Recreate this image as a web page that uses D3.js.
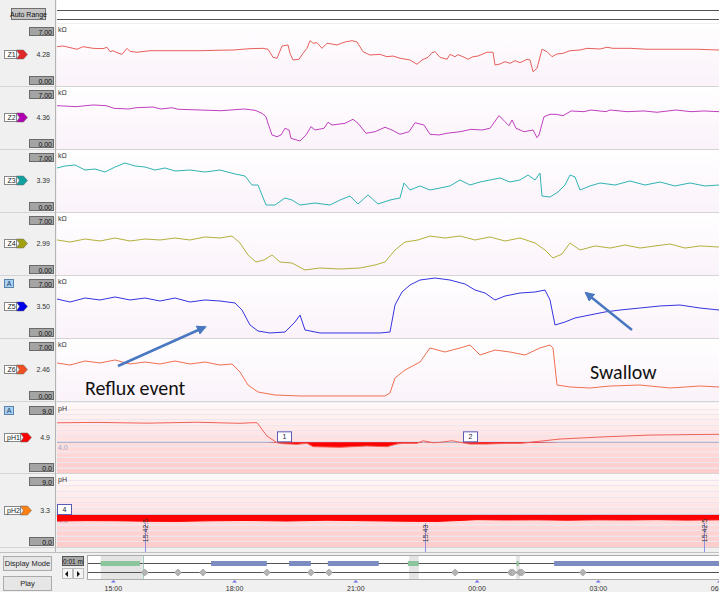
<!DOCTYPE html>
<html>
<head>
<meta charset="utf-8">
<script src="https://cdn.jsdelivr.net/npm/d3@7"></script>
<style>
  body { margin: 0; background: #f0f0f0; font-family: "Liberation Sans", Arial, sans-serif; }
  svg { display: block; }
</style>
</head>
<body>
<svg id="chart" width="719" height="592"></svg>
<script>
// ---- data (sample index 0..662 across the view, impedance in kOhm, pH) ----
const z1 = [[0,4.47],[6,4.55],[20,4.17],[26,4.47],[36,4.28],[46,4.24],[50,4.40],[53,3.89],[56,4.00],[60,3.77],[65,3.58],[70,4.28],[73,3.93],[80,3.82],[93,4.00],[110,4.00],[126,4.00],[143,4.00],[160,4.05],[176,4.08],[193,4.24],[206,4.28],[211,4.17],[216,3.23],[220,3.12],[225,4.55],[231,4.67],[233,3.70],[236,2.92],[242,3.00],[246,3.70],[250,4.28],[253,5.17],[256,4.87],[260,4.94],[265,4.28],[270,4.87],[275,4.78],[280,4.67],[288,5.02],[295,5.17],[300,5.02],[306,3.89],[313,3.50],[323,3.58],[330,3.30],[336,3.38],[343,3.12],[353,2.92],[360,2.42],[365,2.92],[371,3.23],[375,3.77],[378,3.89],[383,3.23],[390,3.00],[393,3.58],[398,3.30],[401,3.54],[406,3.30],[411,3.00],[416,3.30],[421,3.38],[430,3.82],[436,3.82],[438,2.33],[443,2.45],[448,2.72],[453,2.53],[458,2.84],[463,2.60],[470,3.00],[473,2.92],[476,1.55],[480,1.95],[485,4.17],[490,3.89],[495,3.30],[500,3.62],[506,3.70],[513,4.00],[523,4.08],[530,4.28],[543,4.20],[550,4.40],[556,4.28],[573,4.28],[590,4.17],[606,4.17],[623,4.17],[640,4.17],[662,4.08]];

const z2 = [[0,4.94],[19,4.82],[36,5.02],[49,4.94],[57,4.63],[72,4.55],[79,4.70],[96,4.78],[104,4.55],[115,4.70],[121,4.52],[143,4.43],[164,4.35],[187,4.55],[198,4.40],[205,4.05],[209,3.65],[211,2.88],[215,1.52],[220,1.32],[224,1.52],[228,2.30],[232,2.10],[234,1.13],[243,0.82],[249,1.52],[254,2.49],[258,2.10],[267,2.30],[271,3.00],[275,2.68],[288,2.88],[296,3.35],[301,2.88],[309,1.72],[318,1.90],[328,2.42],[335,2.10],[343,1.60],[352,1.90],[358,2.95],[367,2.68],[373,1.60],[382,1.52],[390,1.72],[403,1.90],[414,2.18],[425,2.10],[433,2.30],[442,3.77],[448,3.07],[452,2.60],[455,3.27],[459,2.30],[467,1.90],[476,2.10],[480,1.20],[482,1.52],[487,3.65],[493,3.93],[499,3.93],[506,3.77],[514,4.32],[527,4.24],[534,4.43],[549,4.24],[553,4.43],[570,4.24],[587,4.32],[600,4.17],[619,4.43],[634,4.24],[647,4.32],[662,4.24]];

const z3 = [[0,5.02],[8,5.25],[18,5.37],[28,4.78],[38,4.90],[48,4.55],[58,5.13],[68,5.60],[78,5.25],[88,5.13],[98,4.78],[108,5.02],[118,4.67],[133,4.78],[148,4.55],[163,4.78],[178,4.32],[188,4.08],[195,3.03],[201,3.03],[205,1.87],[209,0.70],[218,0.70],[228,1.52],[235,1.28],[243,0.70],[258,0.93],[273,0.70],[283,1.28],[293,1.75],[301,0.82],[311,1.87],[321,0.82],[333,1.28],[343,1.52],[347,3.27],[353,2.45],[363,2.92],[373,2.45],[383,2.68],[393,2.92],[403,3.62],[413,3.03],[423,3.38],[433,3.62],[443,3.85],[453,3.38],[463,3.62],[471,4.20],[478,3.62],[483,4.43],[485,1.75],[493,1.63],[501,2.22],[508,3.03],[513,4.20],[518,3.97],[523,2.45],[533,2.92],[543,3.27],[558,3.03],[573,3.50],[588,3.03],[603,3.38],[618,2.92],[633,3.27],[648,2.92],[662,3.03]];

const z4 = [[0,3.97],[13,3.73],[28,4.08],[43,3.85],[58,4.20],[73,3.85],[88,4.08],[103,3.97],[118,4.20],[133,3.97],[148,4.32],[163,4.20],[175,4.43],[183,3.62],[191,2.22],[199,1.40],[207,1.63],[215,2.22],[223,1.40],[235,1.28],[248,0.47],[263,0.70],[283,0.58],[303,0.70],[318,1.05],[328,1.40],[338,2.80],[348,3.73],[361,3.97],[373,4.43],[388,4.20],[403,4.43],[418,3.97],[433,4.32],[448,3.85],[463,4.20],[478,3.62],[488,2.80],[496,1.87],[505,2.33],[513,3.62],[523,2.80],[538,3.27],[553,3.03],[568,3.38],[583,3.03],[598,3.27],[613,3.50],[628,3.03],[643,3.27],[662,3.15]];

const z5 = [[0,4.43],[13,4.08],[28,4.55],[43,4.32],[58,4.67],[73,4.32],[88,4.55],[103,4.20],[118,4.55],[133,4.08],[148,4.32],[163,4.20],[178,3.97],[185,3.15],[193,1.40],[201,0.70],[213,0.47],[228,0.58],[238,1.75],[243,2.57],[248,0.82],[263,0.47],[293,0.47],[323,0.47],[333,0.58],[338,3.73],[345,5.25],[353,6.07],[363,6.65],[378,6.88],[393,6.65],[408,6.18],[418,5.48],[428,5.13],[438,4.32],[448,4.78],[463,5.13],[478,5.25],[488,5.48],[493,4.32],[498,1.40],[508,1.75],[518,2.22],[533,2.57],[548,2.92],[563,3.15],[583,3.38],[603,3.62],[623,3.73],[643,3.38],[662,3.15]];

const z6 = [[0,4.32],[13,4.08],[28,4.55],[43,4.32],[58,4.67],[73,4.20],[88,4.43],[103,4.20],[118,4.55],[133,4.20],[148,4.43],[163,4.08],[175,4.20],[183,3.27],[191,1.75],[201,0.93],[218,0.58],[243,0.47],[273,0.47],[303,0.47],[328,0.47],[333,0.82],[338,2.57],[348,3.50],[363,4.43],[373,6.07],[388,5.60],[403,6.07],[413,6.42],[423,5.25],[438,5.83],[453,5.60],[468,5.25],[483,6.07],[493,6.42],[496,6.07],[500,1.75],[513,1.52],[533,1.40],[553,1.63],[583,1.75],[613,1.40],[643,1.63],[662,1.52]];

const ph1 = [[0,6.55],[40,6.60],[90,6.50],[140,6.62],[183,6.48],[195,6.56],[200,6.56],[210,4.82],[220,3.95],[226,3.82],[240,3.74],[250,3.87],[256,3.43],[283,3.35],[310,3.52],[330,3.43],[340,3.78],[346,3.87],[360,3.87],[366,4.21],[376,3.95],[383,4.00],[395,4.21],[403,4.00],[413,3.78],[430,3.78],[450,3.87],[463,3.87],[503,4.43],[543,4.69],[593,4.95],[662,5.05]];

const ph2 = [[0,3.25],[30,3.30],[60,3.28],[90,3.22],[120,3.20],[150,3.27],[190,3.32],[230,3.25],[270,3.35],[310,3.28],[350,3.22],[380,3.20],[400,3.30],[420,3.42],[450,3.38],[480,3.40],[510,3.35],[540,3.40],[570,3.38],[600,3.42],[630,3.36],[662,3.40]];

const channelNames = ["Z1", "Z2", "Z3", "Z4", "Z5", "Z6", "pH1", "pH2"];
const channelReadouts = ["4.28", "4.36", "3.39", "2.99", "3.50", "2.46", "4.9", "3.3"];
const channelMax = ["7.00", "7.00", "7.00", "7.00", "7.00", "7.00", "9.0", "9.0"];
const channelMin = ["0.00", "0.00", "0.00", "0.00", "0.00", "0.00", "0.0", "0.0"];

// event markers and time cursors
const eventLabels = ["1", "2", "4"];
const eventSamples = [220, 406, 0];
const eventChannels = [6, 6, 7];
const cursorSamples = [88, 368, 647];
const cursorLabels = ["15:42:5", "15:43", "15:42:5"];

// overview timeline (hours since midnight, >24 = next day)
const timeTickHours = [15, 18, 21, 24, 27, 30];
const mealPeriods = [[14.70, 15.67], [22.30, 22.57], [24.99, 25.04]];
const supinePeriods = [[17.43, 18.81], [19.36, 19.90], [20.32, 21.58], [25.92, 30]];
const shadedPeriods = [[14.70, 15.72], [22.33, 22.57], [24.98, 25.07]];
const symptomHours = [15.79, 16.61, 17.23, 18.81, 19.90, 20.35, 23.47, 24.85, 24.90, 25.07, 25.12, 26.63];

// ---- layout ----
const svg = d3.select("#chart");
const W = 719, H = 592;
const leftW = 56;
const plotL = 57, plotR = 719;

const traceColors = ["#e8605c", "#c040c0", "#30b4b4", "#b4b03c", "#3434e0", "#f07050", "#f06058", "#ff0000"];
const badgeColors = ["#e02828", "#b000b0", "#10a0a0", "#a0a010", "#0000e8", "#f05020", "#ff0000", "#ff8010"];
const panelTops = [24, 87, 150, 213, 276, 339, 403, 474];
const panelBottoms = [86, 149, 212, 275, 338, 401, 473, 547];
const traces = [z1, z2, z3, z4, z5, z6, ph1, ph2];

const x = d3.scaleLinear().domain([0, 662]).range([plotL, plotR]);

// background
svg.append("rect").attr("width", W).attr("height", H).attr("fill", "#f0f0f0");

// top strip
svg.append("rect").attr("x", plotL).attr("y", 0).attr("width", plotR - plotL).attr("height", 23).attr("fill", "#ffffff");
[10, 19].forEach(yy => {
    svg.append("line").attr("x1", plotL).attr("x2", plotR).attr("y1", yy + 0.5).attr("y2", yy + 0.5)
        .attr("stroke", "#555").attr("stroke-width", 1);
});
svg.append("rect").attr("x", 11.5).attr("y", 8.5).attr("width", 34).attr("height", 11)
    .attr("fill", "#c4c4c4").attr("stroke", "#707070");
svg.append("text").attr("x", 28.5).attr("y", 17).attr("text-anchor", "middle")
    .attr("font-size", 7).attr("fill", "#111").text("Auto Range");

const defs = svg.append("defs");
const zGrad = defs.append("linearGradient").attr("id", "zgrad").attr("x1", 0).attr("x2", 0).attr("y1", 0).attr("y2", 1);
zGrad.append("stop").attr("offset", "0%").attr("stop-color", "#ffffff");
zGrad.append("stop").attr("offset", "100%").attr("stop-color", "#fbf2fa");

channelNames.forEach((name, i) => {
    const top = panelTops[i], bottom = panelBottoms[i];
    const isPH = i >= 6;
    const y = isPH
        ? d3.scaleLinear().domain([0, 9]).range([bottom, top + 1])
        : d3.scaleLinear().domain([0, 7]).range([bottom - 1, top + 1]);
    const g = svg.append("g");

    // plot background
    if (!isPH) {
        g.append("rect").attr("x", plotL).attr("y", top).attr("width", plotR - plotL).attr("height", bottom - top)
            .attr("fill", "url(#zgrad)");
    } else {
        const bandColor = d3.scaleLinear().domain([0, 9]).range(["#ffcccc", "#fffafa"]);
        const steps = d3.range(0, 9, 0.7);
        g.append("rect").attr("x", plotL).attr("y", top).attr("width", plotR - plotL).attr("height", bottom - top)
            .attr("fill", "#fffafa");
        steps.forEach(s => {
            g.append("rect").attr("x", plotL).attr("width", plotR - plotL)
                .attr("y", y(Math.min(s + 0.7, 9))).attr("height", y(s) - y(Math.min(s + 0.7, 9)))
                .attr("fill", bandColor(s));
            g.append("line").attr("x1", plotL).attr("x2", plotR)
                .attr("y1", Math.round(y(s)) + 0.5).attr("y2", Math.round(y(s)) + 0.5)
                .attr("stroke", "#ece6ee").attr("stroke-width", 1);
        });
        // pH 4 reference
        g.append("line").attr("x1", plotL).attr("x2", plotR)
            .attr("y1", y(4)).attr("y2", y(4)).attr("stroke", "#a8aac8").attr("stroke-width", 1);
        g.append("text").attr("x", plotL + 1).attr("y", y(4) + 8).attr("font-size", 7)
            .attr("fill", "#a0a8c8").text("4.0");
    }

    // unit label
    g.append("text").attr("x", plotL + 1).attr("y", top + 8).attr("font-size", 7).attr("fill", "#333")
        .text(isPH ? "pH" : "k\u03A9");

    // below pH 4 fill
    if (isPH) {
        const area = d3.area()
            .x(d => x(d[0]))
            .y0(y(4))
            .y1(d => y(Math.min(d[1], 4)));
        g.append("path").datum(traces[i]).attr("d", area).attr("fill", "#ff0000");
    }

    // trace
    const line = d3.line().x(d => x(d[0])).y(d => y(d[1]));
    g.append("path").datum(traces[i]).attr("d", line)
        .attr("fill", "none").attr("stroke", traceColors[i]).attr("stroke-width", 1);

    // panel separator
    g.append("line").attr("x1", 0).attr("x2", W).attr("y1", bottom + 0.5).attr("y2", bottom + 0.5)
        .attr("stroke", "#d4d4d4");

    // left controls
    const boxW = 24, boxH = 8;
    [[top + 3, channelMax[i]], [bottom - 10, channelMin[i]]].forEach(([by, label]) => {
        g.append("rect").attr("x", 29.5).attr("y", by + 0.5).attr("width", boxW).attr("height", boxH)
            .attr("fill", "#a4a4a4").attr("stroke", "#6a6a6a");
        g.append("text").attr("x", 52).attr("y", by + 7.5).attr("text-anchor", "end")
            .attr("font-size", 7).attr("fill", "#111").text(label);
    });
    const midY = Math.round((top + bottom) / 2) - 1;
    const lw = isPH ? 16 : 12;
    g.append("rect").attr("x", 4.5).attr("y", midY - 3.5).attr("width", lw).attr("height", 8)
        .attr("fill", "#ffffff").attr("stroke", "#888");
    g.append("text").attr("x", 5.5 + lw / 2).attr("y", midY + 3).attr("text-anchor", "middle")
        .attr("font-size", 7).attr("fill", "#222").text(name);
    const bx = 4.5 + lw;
    g.append("path")
        .attr("d", `M${bx},${midY - 4} L${bx + 7},${midY - 4} L${bx + 11},${midY + 0.5} L${bx + 7},${midY + 5} L${bx},${midY + 5} L${bx + 3},${midY + 0.5} Z`)
        .attr("fill", badgeColors[i]).attr("stroke", "#666").attr("stroke-width", 0.5);
    g.append("text").attr("x", 50).attr("y", midY + 3).attr("text-anchor", "end")
        .attr("font-size", 7).attr("fill", "#333").text(channelReadouts[i]);

    // "A" markers on Z5 and pH1
    if (i === 4 || i === 6) {
        g.append("rect").attr("x", 4.5).attr("y", top + 3.5).attr("width", 9).attr("height", 8)
            .attr("fill", "#a9d2f2").attr("stroke", "#5a82aa");
        g.append("text").attr("x", 9).attr("y", top + 10).attr("text-anchor", "middle")
            .attr("font-size", 7).attr("fill", "#1a3a66").text("A");
    }

    // event boxes
    eventChannels.forEach((ch, k) => {
        if (ch !== i) return;
        const ex = x(eventSamples[k]);
        g.append("rect").attr("x", ex + 0.5).attr("y", y(4) - 10.5).attr("width", 14).attr("height", 10)
            .attr("fill", "#ffffff").attr("stroke", "#5a5ab4");
        g.append("text").attr("x", ex + 7.5).attr("y", y(4) - 3).attr("text-anchor", "middle")
            .attr("font-size", 7).attr("fill", "#223").text(eventLabels[k]);
    });

    // time cursors on last channel
    if (i === 7) {
        cursorSamples.forEach((s, k) => {
            const cx = Math.round(x(s)) + 0.5;
            g.append("line").attr("x1", cx).attr("x2", cx).attr("y1", y(3.0)).attr("y2", 552)
                .attr("stroke", "#9090e0");
            g.append("text").attr("transform", `translate(${cx + 2.5},${y(0.6)}) rotate(-90)`)
                .attr("font-size", 7).attr("fill", "#333").text(cursorLabels[k]);
        });
    }
});

// left column border
svg.append("line").attr("x1", 55.5).attr("x2", 55.5).attr("y1", 0).attr("y2", 552).attr("stroke", "#b4b4b4");

// annotations
const arrowDefs = defs.append("marker").attr("id", "arrow").attr("viewBox", "0 0 10 10")
    .attr("refX", 8).attr("refY", 5).attr("markerWidth", 4).attr("markerHeight", 4).attr("orient", "auto");
arrowDefs.append("path").attr("d", "M0,0 L10,5 L0,10 Z").attr("fill", "#4a78c0");
svg.append("line").attr("x1", 118).attr("y1", 366).attr("x2", 205).attr("y2", 327)
    .attr("stroke", "#4a78c0").attr("stroke-width", 2.5).attr("marker-end", "url(#arrow)");
svg.append("line").attr("x1", 632).attr("y1", 330).attr("x2", 586).attr("y2", 293)
    .attr("stroke", "#4a78c0").attr("stroke-width", 2.5).attr("marker-end", "url(#arrow)");
svg.append("text").attr("x", 85).attr("y", 395).attr("font-size", 20).attr("fill", "#111")
    .attr("font-family", "Carlito, 'Liberation Sans', sans-serif").text("Reflux event");
svg.append("text").attr("x", 590).attr("y", 379).attr("font-size", 20).attr("fill", "#111")
    .attr("font-family", "Carlito, 'Liberation Sans', sans-serif").text("Swallow");

// ---- bottom overview ----
svg.append("line").attr("x1", 0).attr("x2", W).attr("y1", 552.5).attr("y2", 552.5).attr("stroke", "#c0c0c0");
[["Display Mode", 556], ["Play", 576]].forEach(([t, by]) => {
    svg.append("rect").attr("x", 3.5).attr("y", by + 0.5).attr("width", 48).attr("height", 14)
        .attr("fill", "#e6e6e6").attr("stroke", "#aaa");
    svg.append("text").attr("x", 27.5).attr("y", by + 10).attr("text-anchor", "middle")
        .attr("font-size", 7.5).attr("fill", "#222").text(t);
});
svg.append("rect").attr("x", 62.5).attr("y", 556.5).attr("width", 21).attr("height", 9)
    .attr("fill", "#a8a8a8").attr("stroke", "#555");
svg.append("text").attr("x", 73).attr("y", 564).attr("text-anchor", "middle").attr("font-size", 6.5)
    .attr("fill", "#111").text("0:01 m");
[[62.5, "M68,571 L65,574 L68,577 Z"], [73.5, "M77,571 L80,574 L77,577 Z"]].forEach(([bx, p]) => {
    svg.append("rect").attr("x", bx).attr("y", 568.5).attr("width", 10).attr("height", 10)
        .attr("fill", "#f4f4f4").attr("stroke", "#bbb");
    svg.append("path").attr("d", p).attr("fill", "#111");
});

const tx = d3.scaleLinear().domain([14.36, 30]).range([87, 719]);
const tl = svg.append("g");
tl.append("rect").attr("x", 87.5).attr("y", 555.5).attr("width", 632).attr("height", 24)
    .attr("fill", "#ffffff").attr("stroke", "#aaa");
shadedPeriods.forEach(p => {
    tl.append("rect").attr("x", tx(p[0])).attr("y", 556).attr("width", tx(p[1]) - tx(p[0])).attr("height", 23)
        .attr("fill", "#e4e4e4");
});
[563.5, 572.5].forEach(yy => {
    tl.append("line").attr("x1", 88).attr("x2", 719).attr("y1", yy).attr("y2", yy).attr("stroke", "#555");
});
mealPeriods.forEach(p => {
    tl.append("rect").attr("x", tx(p[0])).attr("y", 561).attr("width", Math.max(2, tx(p[1]) - tx(p[0]))).attr("height", 5)
        .attr("fill", "#8cc49c");
});
supinePeriods.forEach(p => {
    tl.append("rect").attr("x", tx(p[0])).attr("y", 561).attr("width", tx(p[1]) - tx(p[0])).attr("height", 5)
        .attr("fill", "#7b8cc0");
});
tl.append("line").attr("x1", tx(15.74) + 0.5).attr("x2", tx(15.74) + 0.5).attr("y1", 556).attr("y2", 579)
    .attr("stroke", "#88b8b0");
symptomHours.forEach(h => {
    tl.append("path").attr("transform", `translate(${tx(h)},572.5) rotate(45)`)
        .attr("d", "M-2.5,-2.5 L2.5,-2.5 L2.5,2.5 L-2.5,2.5 Z").attr("fill", "#b4b4b4").attr("stroke", "#8a8a8a")
        .attr("stroke-width", 0.5);
});

const axis = d3.axisBottom(tx).tickValues(timeTickHours).tickSize(0)
    .tickFormat(h => String(h % 24).padStart(2, "0") + ":00");
const axG = svg.append("g").attr("transform", "translate(0,580)").call(axis);
axG.select(".domain").remove();
axG.selectAll("text").attr("font-size", 7).attr("fill", "#333").attr("dy", 7.5)
    .attr("font-family", "'Liberation Sans', Arial, sans-serif");
axG.selectAll(".tick").append("path").attr("d", "M-2.5,2.5 L0,0 L2.5,2.5 Z").attr("fill", "#7070e0");
</script>
</body>
</html>
